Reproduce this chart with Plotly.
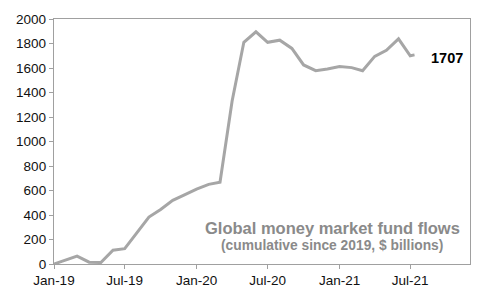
import plotly.graph_objects as go

dates = ["2019-01-01", "2019-02-01", "2019-03-01", "2019-04-01", "2019-05-01", "2019-06-01",
         "2019-07-01", "2019-08-01", "2019-09-01", "2019-10-01", "2019-11-01", "2019-12-01",
         "2020-01-01", "2020-02-01", "2020-03-01", "2020-04-01", "2020-05-01", "2020-06-01",
         "2020-07-01", "2020-08-01", "2020-09-01", "2020-10-01", "2020-11-01", "2020-12-01",
         "2021-01-01", "2021-02-01", "2021-03-01", "2021-04-01", "2021-05-01", "2021-06-01",
         "2021-07-01", "2021-07-12"]
flows = [0, 33, 65, 15, 12, 113,
         125, 254, 383, 445, 520, 565,
         612, 650, 668, 1330, 1810, 1895,
         1810, 1827, 1760, 1625, 1578, 1592,
         1612, 1603, 1578, 1695, 1745, 1838,
         1700, 1707]
tick_vals = ["2019-01-01", "2019-07-01", "2020-01-01", "2020-07-01", "2021-01-01", "2021-07-01"]
tick_text = ["Jan-19", "Jul-19", "Jan-20", "Jul-20", "Jan-21", "Jul-21"]
last_label = "1707"
title = "Global money market fund flows"
subtitle = "(cumulative since 2019, $ billions)"

fig = go.Figure()
fig.add_trace(go.Scatter(x=dates, y=flows, mode="lines",
                         line=dict(color="#a6a6a6", width=3), hoverinfo="skip"))

fig.add_annotation(x=dates[-1], y=flows[-1], text=f"<b>{last_label}</b>", showarrow=False,
                   xanchor="left", yanchor="middle", xshift=14, yshift=-3,
                   font=dict(size=14.5, color="#000000", family="Liberation Sans"))
fig.add_annotation(xref="paper", yref="paper", x=0.669, y=0.145, text=f"<b>{title}</b>",
                   showarrow=False, xanchor="center", yanchor="middle",
                   font=dict(size=16.5, color="#8a8a8a", family="Liberation Sans"))
fig.add_annotation(xref="paper", yref="paper", x=0.669, y=0.0736, text=f"<b>{subtitle}</b>",
                   showarrow=False, xanchor="center", yanchor="middle",
                   font=dict(size=13.8, color="#8a8a8a", family="Liberation Sans"))

fig.update_layout(
    width=500, height=300,
    margin=dict(l=53.5, r=30, t=15, b=33.5),
    paper_bgcolor="white", plot_bgcolor="white",
    showlegend=False,
    font=dict(family="Liberation Sans", size=13.5, color="#111111"),
    xaxis=dict(type="date", range=["2019-01-01", "2021-12-01"],
               tickvals=tick_vals, ticktext=tick_text,
               showgrid=False, zeroline=False,
               showline=True, linecolor="#a0a0a0", linewidth=1.3, mirror=True,
               ticks="outside", ticklen=4, tickcolor="#a0a0a0", tickwidth=1,
               tickfont=dict(size=13.5)),
    yaxis=dict(range=[0, 2000], tickvals=list(range(0, 2001, 200)),
               showgrid=False, zeroline=False,
               showline=True, linecolor="#a0a0a0", linewidth=1.3, mirror=True,
               ticks="outside", ticklen=4, tickcolor="#a0a0a0", tickwidth=1,
               tickfont=dict(size=13.5)),
)

fig.write_html("out.html")
